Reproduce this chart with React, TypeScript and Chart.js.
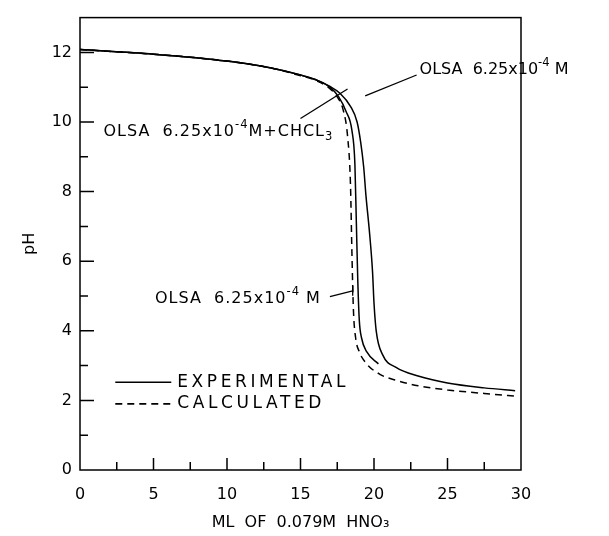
import React, { useEffect, useRef } from "react";
import { Chart, registerables } from "chart.js";

Chart.register(...registerables);

// ---- data (ml of HNO3, pH) ----
const olsaX = [0, 5, 10, 13, 15, 16, 17, 17.7, 18.4, 18.85, 19.1, 19.3, 19.45, 19.7, 19.9, 20.0, 20.15, 20.6, 21.5, 23, 25, 27.5, 29.6];
const olsaY = [12.08, 11.95, 11.75, 11.55, 11.35, 11.22, 11.02, 10.82, 10.45, 10.0, 9.4, 8.7, 7.9, 6.8, 5.7, 4.8, 4.0, 3.3, 2.95, 2.7, 2.5, 2.36, 2.28];

const chclX = [0, 5, 10, 13, 15, 16, 17, 17.6, 18.1, 18.5, 18.7, 18.8, 18.9, 19.0, 19.15, 19.5, 20.3];
const chclY = [12.08, 11.95, 11.75, 11.55, 11.35, 11.22, 11.0, 10.72, 10.3, 9.75, 8.8, 7.1, 5.4, 4.3, 3.8, 3.4, 3.05];

const calcX = [0, 5, 10, 13, 15, 16, 17, 17.5, 17.9, 18.2, 18.4, 18.5, 18.6, 18.75, 19.0, 19.4, 20.4, 21.5, 23, 25, 27.5, 29.6];
const calcY = [12.08, 11.95, 11.75, 11.55, 11.33, 11.2, 10.96, 10.72, 10.35, 9.6, 8.2, 6.2, 4.6, 3.8, 3.4, 3.1, 2.75, 2.58, 2.42, 2.3, 2.2, 2.12];

const xTickStep = 5;
const yTickStep = 2;
const xMax = 30;
const yMax = 13;

const FONT = "DejaVu Sans";

type Part = [string, number]; // 0 normal, 1 superscript, 2 subscript

function drawRich(ctx: CanvasRenderingContext2D, x: number, y: number, parts: Part[], size: number, spacing = 0) {
  let cx = x;
  ctx.textBaseline = "middle";
  ctx.textAlign = "left";
  (ctx as any).letterSpacing = `${spacing}px`;
  for (const [t, mode] of parts) {
    const s = mode === 0 ? size : size * 0.72;
    ctx.font = `${s}px ${FONT}`;
    const dy = mode === 1 ? -size * 0.45 : mode === 2 ? size * 0.32 : 0;
    ctx.fillText(t, cx, y + dy);
    cx += ctx.measureText(t).width;
  }
  (ctx as any).letterSpacing = "0px";
}

const decorPlugin = {
  id: "decor",
  afterDraw(chart: any) {
    const ctx: CanvasRenderingContext2D = chart.ctx;
    const { left, right, top, bottom } = chart.chartArea;
    const xs = chart.scales.x;
    const ys = chart.scales.y;
    ctx.save();
    ctx.strokeStyle = "#000";
    ctx.fillStyle = "#000";
    ctx.lineWidth = 1.5;
    ctx.setLineDash([]);
    // frame
    ctx.strokeRect(left, top, right - left, bottom - top);
    // inward ticks
    ctx.beginPath();
    for (let v = 2.5; v < xMax; v += 2.5) {
      const px = xs.getPixelForValue(v);
      const len = v % 5 === 0 ? 12 : 8;
      ctx.moveTo(px, bottom);
      ctx.lineTo(px, bottom - len);
    }
    for (let v = 1; v < yMax; v += 1) {
      const py = ys.getPixelForValue(v);
      const len = v % 2 === 0 ? 14 : 8;
      ctx.moveTo(left, py);
      ctx.lineTo(left + len, py);
    }
    ctx.stroke();

    const P = (x: number, y: number) => [xs.getPixelForValue(x), ys.getPixelForValue(y)];
    const line = (a: number[], b: number[]) => {
      ctx.beginPath();
      ctx.moveTo(a[0], a[1]);
      ctx.lineTo(b[0], b[1]);
      ctx.stroke();
    };
    // leaders
    ctx.lineWidth = 1.3;
    line(P(19.4, 10.75), P(22.9, 11.35));
    line(P(15.0, 10.1), P(18.2, 10.95));
    const e = P(18.55, 5.15);
    line(P(17.0, 4.98), e);
    line([e[0], e[1] - 5], [e[0], e[1] + 5]);

    // annotation texts
    const size = 16;
    const a1 = P(23.1, 11.5);
    drawRich(ctx, a1[0], a1[1], [["OLSA  6.25x10", 0], ["-4", 1], [" M", 0]], size, 0);
    const a2 = P(1.6, 9.72);
    drawRich(ctx, a2[0], a2[1], [["OLSA  6.25x10", 0], ["-4", 1], ["M+CHCL", 0], ["3", 2]], size, 1);
    const a3 = P(5.1, 4.92);
    drawRich(ctx, a3[0], a3[1], [["OLSA  6.25x10", 0], ["-4", 1], [" M", 0]], size, 1);

    // legend
    const l1 = P(2.4, 2.52);
    const l2 = P(2.4, 1.9);
    const lx0 = l1[0];
    const lx1 = lx0 + 56;
    ctx.lineWidth = 1.6;
    line([lx0, l1[1]], [lx1, l1[1]]);
    ctx.setLineDash([7, 5]);
    line([lx0, l2[1]], [lx1, l2[1]]);
    ctx.setLineDash([]);
    drawRich(ctx, lx1 + 6, l1[1], [["EXPERIMENTAL", 0]], 17, 3.6);
    drawRich(ctx, lx1 + 6, l2[1], [["CALCULATED", 0]], 17, 3.6);
    ctx.restore();
  },
};

function toPts(xs: number[], ys: number[]) {
  return xs.map((x, i) => ({ x, y: ys[i] }));
}

export default function App() {
  const ref = useRef<HTMLCanvasElement | null>(null);
  useEffect(() => {
    if (!ref.current) return;
    const common = {
      showLine: true,
      pointRadius: 0,
      borderColor: "#000",
      borderWidth: 1.5,
      cubicInterpolationMode: "monotone" as const,
      fill: false,
    };
    const chart = new Chart(ref.current, {
      type: "scatter",
      data: {
        datasets: [
          { label: "OLSA 6.25x10-4M (experimental)", data: toPts(olsaX, olsaY), ...common },
          { label: "OLSA 6.25x10-4M+CHCL3 (experimental)", data: toPts(chclX, chclY), ...common },
          { label: "OLSA 6.25x10-4M (calculated)", data: toPts(calcX, calcY), ...common, borderDash: [7, 5] },
        ],
      },
      options: {
        responsive: false,
        animation: false,
        layout: { padding: { top: 10, right: 88, left: 0, bottom: 0 } },
        plugins: { legend: { display: false }, tooltip: { enabled: false } },
        scales: {
          x: {
            type: "linear",
            min: 0,
            max: xMax,
            grid: { display: false, drawTicks: false, tickLength: 0 },
            border: { display: false },
            ticks: { stepSize: xTickStep, color: "#000", font: { size: 16, family: FONT }, padding: 15, maxRotation: 0 },
            title: { display: true, text: "ML  OF  0.079M  HNO₃", color: "#000", font: { size: 16, family: FONT }, padding: { top: 4, bottom: 4 } },
            afterFit: (s: any) => { s.height = 66; },
          },
          y: {
            type: "linear",
            min: 0,
            max: yMax,
            grid: { display: false, drawTicks: false, tickLength: 0 },
            border: { display: false },
            ticks: { stepSize: yTickStep, color: "#000", font: { size: 16, family: FONT }, padding: 8 },
            afterBuildTicks: (s: any) => { s.ticks = s.ticks.filter((t: any) => t.value % 2 === 0); },
            title: { display: true, text: "pH", color: "#000", font: { size: 16, family: FONT }, padding: { top: 20, bottom: 0 } },
            afterFit: (s: any) => { s.width = 80; },
          },
        },
      },
      plugins: [decorPlugin],
    });
    return () => chart.destroy();
  }, []);
  return (
    <div style={{ position: "absolute", left: 0, top: 0, width: 609, height: 536, background: "#fff" }}>
      <canvas ref={ref} width={609} height={536} />
    </div>
  );
}
